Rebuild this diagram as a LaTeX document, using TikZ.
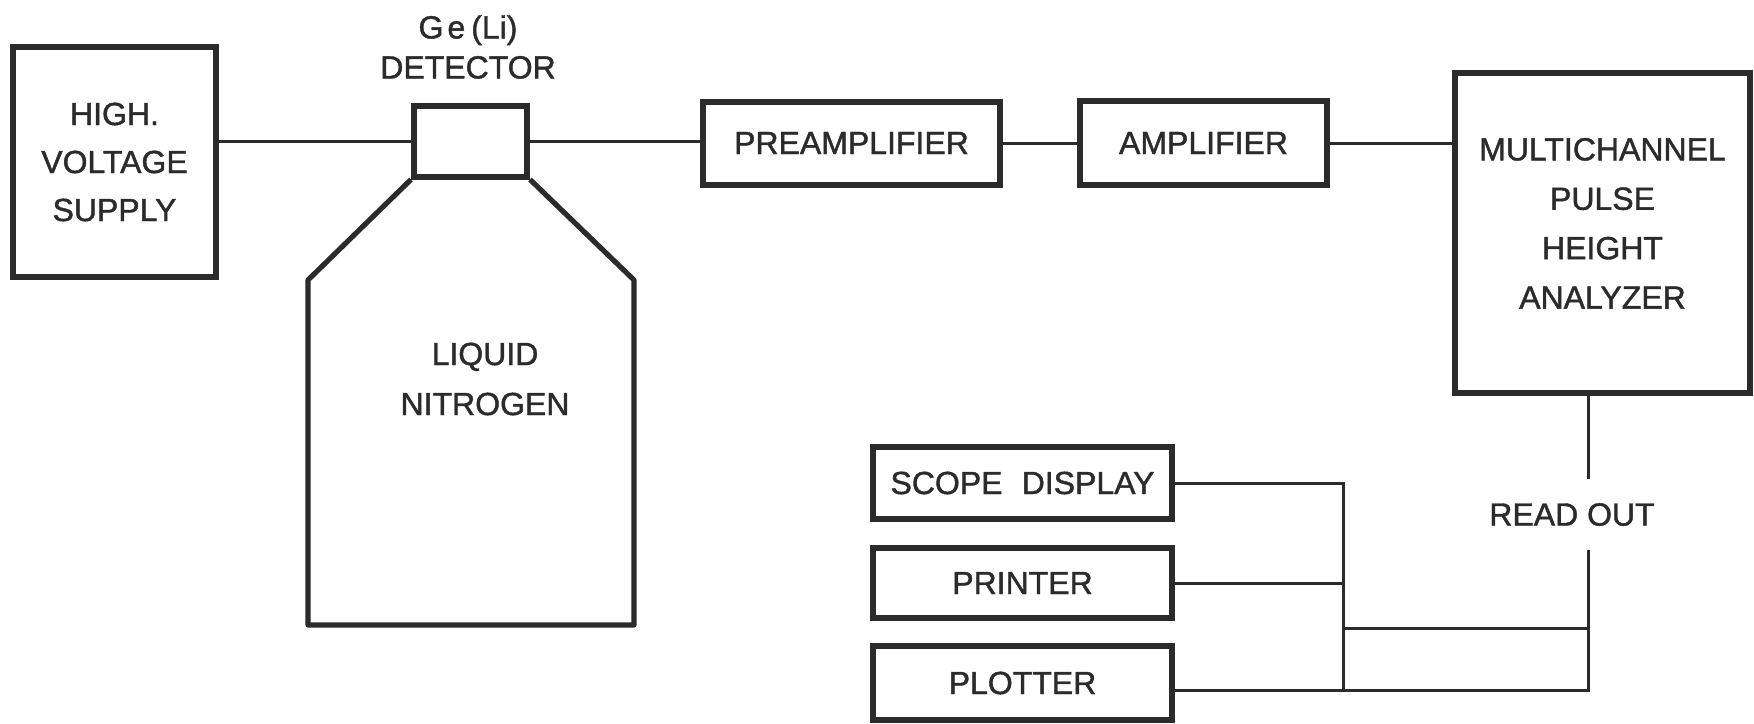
\documentclass[tikz,border=0pt]{standalone}
\usepackage{fontspec}
\setmainfont{Liberation Sans}[FakeBold=1.3]
\definecolor{ink}{HTML}{2B2B2B}
\begin{document}
\begin{tikzpicture}[x=0.5pt,y=-0.5pt,
  box/.style={draw=ink, line width=3pt, inner sep=0pt, align=center, text=ink,
    font=\fontsize{16}{24}\selectfont},
  wire/.style={draw=ink, line width=1.5pt},
  lbl/.style={text=ink, align=center, inner sep=0pt, font=\fontsize{16}{24}\selectfont}]
\useasboundingbox (0,0) rectangle (1754,723);
\fill[white] (0,0) rectangle (1754,723);

% top row
\node[box, minimum width=101.5pt, minimum height=115pt] (hv) at (114.5,162) {HIGH.\\VOLTAGE\\SUPPLY};
\node[box, minimum width=56.5pt, minimum height=35.5pt] (det) at (470.5,141) {};
\node[lbl, font=\fontsize{16}{20}\selectfont] (detlbl) at (468,47) {G\kern2pt e\kern3pt (Li)\\DETECTOR};
\node[box, minimum width=148.5pt, minimum height=41.5pt] (preamp) at (851.5,143) {PREAMPLIFIER};
\node[box, minimum width=123.5pt, minimum height=42pt] (amp) at (1203.5,143) {AMPLIFIER};
\node[box, minimum width=147.5pt, minimum height=160pt, font=\fontsize{16}{24.7}\selectfont] (mca) at (1602.5,233) {MULTICHANNEL\\PULSE\\HEIGHT\\ANALYZER\\[-15pt]};

% dewar
\coordinate (shl) at (308,280);
\coordinate (shr) at (634,280);
\coordinate (bl) at (308,625);
\coordinate (br) at (634,625);
\draw[ink, line width=2.6pt, line join=round] (det.south west) -- (shl) -- (bl) -- (br) -- (shr) -- (det.south east);
\node[lbl, font=\fontsize{16}{25}\selectfont] (ln2) at (485,379) {LIQUID\\NITROGEN};

% read-out devices
\node[box, minimum width=149.5pt, minimum height=36pt] (scope) at (1022.5,483) {SCOPE\hspace{0.6em}DISPLAY};
\node[box, minimum width=149.5pt, minimum height=35pt] (printer) at (1022.5,583) {PRINTER};
\node[box, minimum width=149.5pt, minimum height=37pt] (plotter) at (1022.5,683) {PLOTTER};
\node[lbl, minimum height=35.5pt] (readout) at (1572,514.5) {READ OUT};

\coordinate (busj) at (1343,628);
\coordinate (roj) at (1588,628);
\coordinate (pl) at ([yshift=-3.5pt]plotter.east);

% connectors
\draw[wire] (det.west -| hv.east) -- (det.west);
\draw[wire] (det.east) -- (det.east -| preamp.west);
\draw[wire] (preamp.east) -- (amp.west);
\draw[wire] (amp.east) -- (amp.east -| mca.west);
\draw[wire] (mca.south -| roj) -- (readout.north -| roj);
\draw[wire] (readout.south -| roj) -- (pl -| roj) -- (pl);
\draw[wire] (scope.east) -- (scope.east -| busj) -- (pl -| busj);
\draw[wire] (printer.east) -- (printer.east -| busj);
\draw[wire] (busj) -- (roj);
\end{tikzpicture}
\end{document}
